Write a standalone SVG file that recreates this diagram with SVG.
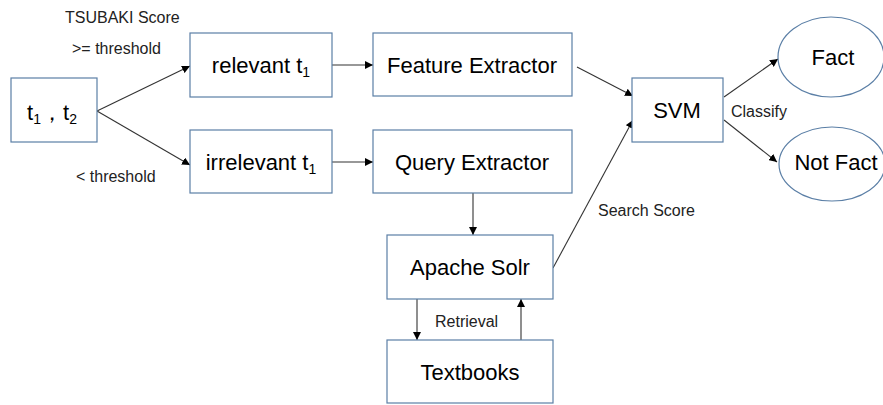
<svg xmlns="http://www.w3.org/2000/svg" width="883" height="405" viewBox="0 0 883 405">
<style>
.box{fill:#fff;stroke:#5b7fa6;stroke-width:1.2}
.t{font-family:"Liberation Sans",Arial,sans-serif;font-size:22px;fill:#000;text-anchor:middle}
.s{font-family:"Liberation Sans",Arial,sans-serif;font-size:16px;fill:#222}
.sub{font-size:14px}
.c line{stroke:#333;stroke-width:1.1;marker-end:url(#ah)}
</style>
<defs>
<marker id="ah" viewBox="0 0 10 10" refX="10" refY="5" markerWidth="8" markerHeight="8" markerUnits="userSpaceOnUse" orient="auto">
<path d="M0,0 L10,5 L0,10 z" fill="#000"/>
</marker>
</defs>
<rect width="883" height="405" fill="#fff"/>
<g class="c" id="connectors">
<line x1="97" y1="111" x2="190" y2="66"/>
<line x1="97" y1="111" x2="190" y2="165"/>
<line x1="332" y1="65" x2="373" y2="65"/>
<line x1="332" y1="162" x2="373" y2="162"/>
<line x1="577" y1="67" x2="633" y2="96"/>
<line x1="553" y1="268" x2="633" y2="120"/>
<line x1="724" y1="97" x2="778" y2="59"/>
<line x1="724" y1="120" x2="777" y2="162"/>
<line x1="473" y1="193" x2="473" y2="235"/>
<line x1="417" y1="299" x2="417" y2="340"/>
<line x1="521" y1="340" x2="521" y2="299"/>
</g>
<g id="labels">
<text class="s" x="65" y="23">TSUBAKI Score</text>
<text class="s" x="72" y="54">&gt;= threshold</text>
<text class="s" x="76" y="182">&lt; threshold</text>
<text class="s" x="598" y="216">Search Score</text>
<text class="s" x="731" y="117">Classify</text>
<text class="s" x="435" y="327">Retrieval</text>
</g>
<g id="n-t1t2"><rect class="box" x="11" y="78" width="86" height="64"/><text class="t" x="52" y="120">t<tspan class="sub" dy="4">1</tspan><tspan dy="-4">，t</tspan><tspan class="sub" dy="4">2</tspan></text></g>
<g id="n-relevant"><rect class="box" x="190" y="33" width="142" height="64"/><text class="t" x="261" y="73">relevant t<tspan class="sub" dy="4">1</tspan></text></g>
<g id="n-irrelevant"><rect class="box" x="190" y="130" width="142" height="63"/><text class="t" x="261" y="170">irrelevant t<tspan class="sub" dy="4">1</tspan></text></g>
<g id="n-feature"><rect class="box" x="373" y="33" width="199" height="63"/><text class="t" x="472" y="73">Feature Extractor</text></g>
<g id="n-query"><rect class="box" x="373" y="130" width="199" height="63"/><text class="t" x="472" y="170">Query Extractor</text></g>
<g id="n-svm"><rect class="box" x="632" y="78" width="91" height="64"/><text class="t" x="677" y="118">SVM</text></g>
<g id="n-fact"><ellipse class="box" cx="831" cy="57" rx="53" ry="40"/><text class="t" x="833" y="65">Fact</text></g>
<g id="n-notfact"><ellipse class="box" cx="832" cy="164" rx="53" ry="37"/><text class="t" x="836" y="170">Not Fact</text></g>
<g id="n-solr"><rect class="box" x="387" y="235" width="166" height="64"/><text class="t" x="470" y="275">Apache Solr</text></g>
<g id="n-textbooks"><rect class="box" x="387" y="340" width="166" height="63"/><text class="t" x="470" y="380">Textbooks</text></g>
</svg>
